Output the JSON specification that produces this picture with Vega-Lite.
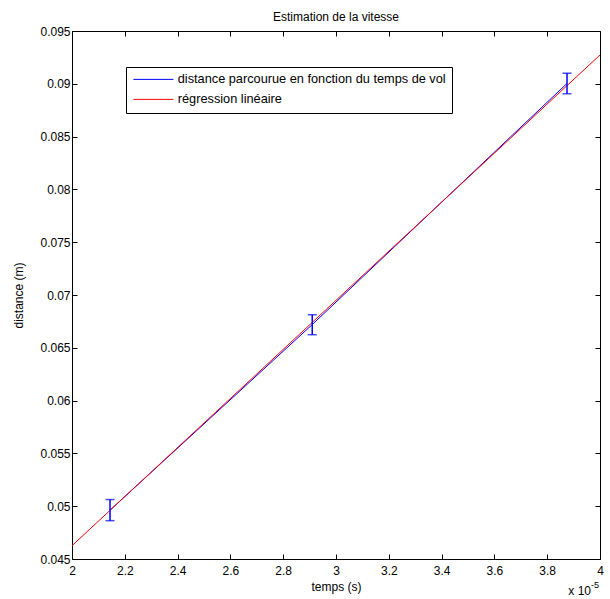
{
  "$schema": "https://vega.github.io/schema/vega-lite/v6.json",
  "width": 528,
  "height": 528,
  "autosize": {"type": "none"},
  "padding": {"left": 72, "top": 31, "right": 10, "bottom": 40},
  "background": "white",
  "config": {
    "font": "Liberation Sans",
    "view": {"stroke": null},
    "axis": {
      "grid": false,
      "domainColor": "black",
      "tickColor": "black",
      "labelColor": "black",
      "titleColor": "black",
      "labelFont": "Liberation Sans",
      "titleFont": "Liberation Sans",
      "labelFontSize": 12,
      "titleFontSize": 12,
      "titleFontWeight": "normal",
      "tickSize": -5,
      "labelPadding": 4
    },
    "legend": {"labelFont": "Liberation Sans"}
  },
  "title": {
    "text": "Estimation de la vitesse",
    "fontSize": 12,
    "fontWeight": "normal",
    "font": "Liberation Sans",
    "color": "black",
    "offset": 1
  },
  "datasets": {
    "meas": [
      {"t": 2.144e-5, "d": 0.04963, "lo": 0.04863, "hi": 0.05063, "serie": "distance parcourue en fonction du temps de vol"},
      {"t": 2.910e-5, "d": 0.06720, "lo": 0.06624, "hi": 0.06813, "serie": "distance parcourue en fonction du temps de vol"},
      {"t": 3.875e-5, "d": 0.09003, "lo": 0.08906, "hi": 0.09100, "serie": "distance parcourue en fonction du temps de vol"}
    ],
    "reg": [
      {"t": 2e-5, "d": 0.04626, "serie": "régression linéaire"},
      {"t": 4e-5, "d": 0.09273, "serie": "régression linéaire"}
    ],
    "note": [{"t": 4e-5, "d": 0.045}]
  },
  "resolve": {"axis": {"x": "independent", "y": "independent"}},
  "layer": [
    {
      "data": {"name": "meas"},
      "mark": {"type": "line", "strokeWidth": 1},
      "encoding": {
        "x": {
          "field": "t", "type": "quantitative",
          "scale": {"domain": [2e-5, 4e-5], "nice": false, "zero": false},
          "axis": {
            "orient": "bottom",
            "title": "temps (s)",
            "titlePadding": 5,
            "labelPadding": 11,
            "values": [2e-5, 2.2e-5, 2.4e-5, 2.6e-5, 2.8e-5, 3e-5, 3.2e-5, 3.4e-5, 3.6e-5, 3.8e-5, 4e-5],
            "labelExpr": "format(datum.value * 100000, '.2~r')",
            "labelFlush": false,
            "labelOverlap": false
          }
        },
        "y": {
          "field": "d", "type": "quantitative",
          "scale": {"domain": [0.045, 0.095], "nice": false, "zero": false},
          "axis": {
            "orient": "left",
            "title": "distance (m)",
            "titlePadding": 14,
            "labelPadding": 7,
            "values": [0.045, 0.05, 0.055, 0.06, 0.065, 0.07, 0.075, 0.08, 0.085, 0.09, 0.095],
            "format": ".3~f",
            "labelFlush": false,
            "labelOverlap": false
          }
        },
        "color": {
          "field": "serie", "type": "nominal",
          "scale": {
            "domain": ["distance parcourue en fonction du temps de vol", "régression linéaire"],
            "range": ["#0000ff", "#ff0000"]
          },
          "legend": {
            "title": null,
            "orient": "none",
            "legendX": 54,
            "legendY": 36,
            "strokeColor": "black",
            "fillColor": "white",
            "padding": 6,
            "symbolType": "M-1,0H7",
            "symbolSize": 100,
            "symbolStrokeWidth": 1,
            "symbolFillColor": "transparent",
            "labelFontSize": 12.75,
            "labelColor": "black",
            "labelOffset": 33,
            "labelLimit": 400,
            "rowPadding": 6,
            "cornerRadius": 0
          }
        }
      }
    },
    {
      "data": {"name": "reg"},
      "mark": {"type": "line", "strokeWidth": 1},
      "encoding": {
        "x": {
          "field": "t", "type": "quantitative",
          "axis": {
            "orient": "top",
            "title": null,
            "labels": false,
            "values": [2e-5, 2.2e-5, 2.4e-5, 2.6e-5, 2.8e-5, 3e-5, 3.2e-5, 3.4e-5, 3.6e-5, 3.8e-5, 4e-5]
          }
        },
        "y": {
          "field": "d", "type": "quantitative",
          "axis": {
            "orient": "right",
            "title": null,
            "labels": false,
            "values": [0.045, 0.05, 0.055, 0.06, 0.065, 0.07, 0.075, 0.08, 0.085, 0.09, 0.095]
          }
        },
        "color": {"field": "serie", "type": "nominal"}
      }
    },
    {
      "data": {"name": "meas"},
      "mark": {"type": "errorbar", "ticks": {"size": 9, "thickness": 1.5}, "color": "#0000ff", "thickness": 1.5},
      "encoding": {
        "x": {"field": "t", "type": "quantitative", "axis": null},
        "y": {"field": "lo", "type": "quantitative", "axis": null},
        "y2": {"field": "hi"}
      }
    },
    {
      "data": {"name": "note"},
      "mark": {"type": "text", "text": "x 10", "align": "right", "baseline": "middle", "dx": -9, "dy": 32, "fontSize": 12, "color": "black", "font": "Liberation Sans"},
      "encoding": {
        "x": {"field": "t", "type": "quantitative", "axis": null},
        "y": {"field": "d", "type": "quantitative", "axis": null}
      }
    },
    {
      "data": {"name": "note"},
      "mark": {"type": "text", "text": "-5", "align": "left", "baseline": "middle", "dx": -9, "dy": 26, "fontSize": 9, "color": "black", "font": "Liberation Sans"},
      "encoding": {
        "x": {"field": "t", "type": "quantitative", "axis": null},
        "y": {"field": "d", "type": "quantitative", "axis": null}
      }
    }
  ]
}
